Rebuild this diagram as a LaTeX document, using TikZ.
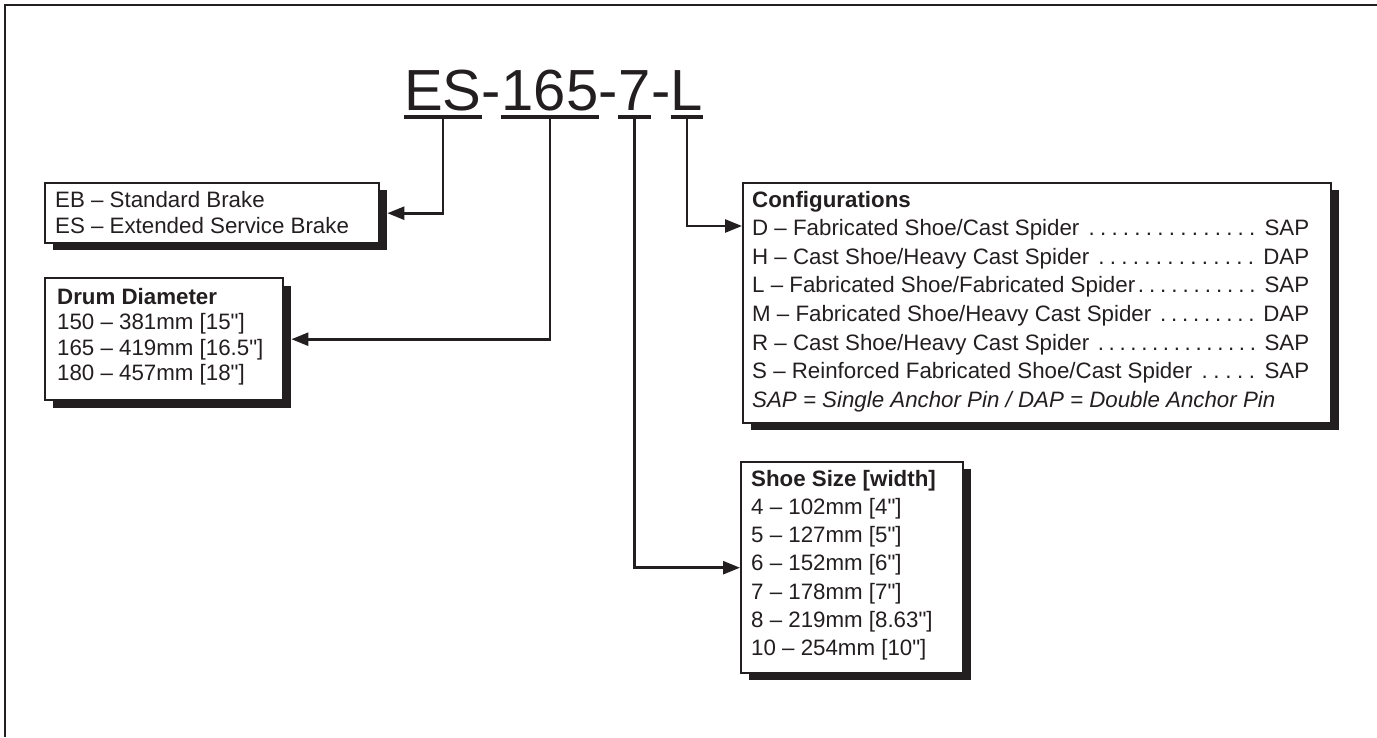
\documentclass[tikz,border=0pt]{standalone}
\usepackage{fontspec}
\setmainfont{Liberation Sans}[Ligatures=TeXOff]
\usetikzlibrary{arrows.meta}
\definecolor{ink}{HTML}{231F20}
\newcommand\cfglead{\xleaders\hbox to 10.8pt{\hss.\hss}\hfill}
\newcommand\cfgrow[2]{\hbox to 557pt{#1\cfglead\ #2}}
\begin{document}
\begin{tikzpicture}[x=1pt,y=-1pt,
  box/.style={draw=ink, line width=2.4pt, fill=white, anchor=north west, inner sep=0pt},
  shadowbox/.style={fill=ink, anchor=north west, inner sep=0pt},
  conn/.style={draw=ink, line width=2.6pt, -{Triangle[length=17pt,width=13pt]}},
  uline/.style={draw=ink, line width=4pt},
  titletxt/.style={font=\fontsize{58}{60}\selectfont, text=ink, inner sep=0pt, anchor=base west},
  txt/.style={text=ink, inner sep=0pt, anchor=base west, font=\fontsize{22.3}{26}\selectfont}
]
\useasboundingbox (0,0) rectangle (1377,737);
\draw[ink, line width=2.5pt] (1377,5) -- (5,5) -- (5,737);

% title
\node[titletxt] (es) at (404,110) {ES};
\node[titletxt] (h1) at (es.base east) {-};
\node[titletxt] (n165) at (h1.base east) {165};
\node[titletxt] (h2) at (n165.base east) {-};
\node[titletxt] (n7) at (h2.base east) {7};
\node[titletxt] (h3) at (n7.base east) {-};
\node[titletxt] (nl) at (h3.base east) {L};
\foreach \n in {es,n165,n7,nl}
  \draw[uline] ([yshift=-7pt]\n.base west) -- ([yshift=-7pt]\n.base east);

% boxes
\node[shadowbox, minimum width=334, minimum height=60] (b1s) at (53,190) {};
\node[box, minimum width=334, minimum height=60] (b1) at (44,182) {};
\node[txt] (b1t) at (55,207) {\vtop{\baselineskip=26pt
  \hbox{EB – Standard Brake}\hbox{ES – Extended Service Brake}}};

\node[shadowbox, minimum width=238, minimum height=122] (drs) at (53,286) {};
\node[box, minimum width=238, minimum height=122] (dr) at (44,277) {};
\node[txt] (drt) at (57,304) {\vtop{\baselineskip=25.6pt
  \hbox{\bfseries Drum Diameter}
  \hbox{150 – 381mm [15"]}
  \hbox{165 – 419mm [16.5"]}
  \hbox{180 – 457mm [18"]}}};

\node[shadowbox, minimum width=588, minimum height=240] (cfgs) at (751,190) {};
\node[box, minimum width=588, minimum height=240] (cfg) at (742,182) {};
\node[txt] (cfgt) at (752,207) {\vtop{\baselineskip=28.6pt
  \hbox{\bfseries Configurations}
  \cfgrow{D – Fabricated Shoe/Cast Spider }{SAP}
  \cfgrow{H – Cast Shoe/Heavy Cast Spider }{DAP}
  \cfgrow{L – Fabricated Shoe/Fabricated Spider}{SAP}
  \cfgrow{M – Fabricated Shoe/Heavy Cast Spider }{DAP}
  \cfgrow{R – Cast Shoe/Heavy Cast Spider }{SAP}
  \cfgrow{S – Reinforced Fabricated Shoe/Cast Spider }{SAP}
  \hbox{\itshape SAP = Single Anchor Pin / DAP = Double Anchor Pin}}};

\node[shadowbox, minimum width=222, minimum height=211] (shoes) at (749,469) {};
\node[box, minimum width=222, minimum height=211] (shoe) at (740,461) {};
\node[txt] (shoet) at (751,486) {\vtop{\baselineskip=28.3pt
  \hbox{\bfseries Shoe Size [width]}
  \hbox{4 – 102mm [4"]}
  \hbox{5 – 127mm [5"]}
  \hbox{6 – 152mm [6"]}
  \hbox{7 – 178mm [7"]}
  \hbox{8 – 219mm [8.63"]}
  \hbox{10 – 254mm [10"]}}};

% connectors
\draw[conn] ([yshift=-7pt]es.base) |- (b1s.east |- b1.east);
\draw[conn] ([yshift=-7pt]n165.base) |- (drs.east |- dr.east);
\draw[conn] ([yshift=-7pt]nl.base) |- ([yshift=-44pt]cfg.north west);
\draw[conn] ([yshift=-7pt]n7.base) |- (shoe.west);
\end{tikzpicture}
\end{document}
